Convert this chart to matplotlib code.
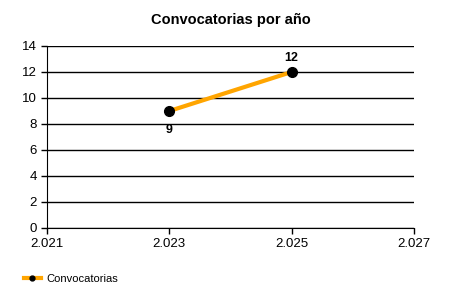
import matplotlib.pyplot as plt
from matplotlib.ticker import FixedLocator, FuncFormatter

plt.rcParams['font.family'] = ['Liberation Sans', 'DejaVu Sans']

# Datos
years = [2.023, 2.025]
counts = [9, 12]
x_ticks = [2.021, 2.023, 2.025, 2.027]
y_ticks = [0, 2, 4, 6, 8, 10, 12, 14]

fig = plt.figure(figsize=(4.5, 3), dpi=100)
ax = fig.add_axes([0.1044, 0.24, 0.8156, 0.6067])

ax.plot(years, counts, color='#FFA500', linewidth=3, marker='o',
        markersize=7, markerfacecolor='black', markeredgecolor='black',
        label='Convocatorias', zorder=3)

for x, y, off in zip(years, counts, [-14, 10]):
    ax.annotate(str(y), (x, y), textcoords='offset points', xytext=(0, off),
                ha='center', va='center', fontsize=9, fontweight='bold')

ax.set_xlim(2.021, 2.027)
ax.set_ylim(0, 14)
ax.xaxis.set_major_locator(FixedLocator(x_ticks))
ax.yaxis.set_major_locator(FixedLocator(y_ticks))
ax.xaxis.set_major_formatter(FuncFormatter(lambda v, p: f"{v:.3f}"))
ax.yaxis.grid(True, color='black', linewidth=1)
ax.set_axisbelow(True)
ax.tick_params(direction='out', length=4, width=1, labelsize=9.5, colors='black')
for s in ['top', 'right']:
    ax.spines[s].set_visible(False)

ax.set_title('Convocatorias por año', fontsize=10.5, fontweight='bold', pad=16)

fig.legend(loc='lower left', bbox_to_anchor=(0.03, 0.02), frameon=False,
           fontsize=8, handlelength=1.6, handletextpad=0.5, markerscale=0.5)

fig.savefig('out.png', dpi=100, facecolor='white')
